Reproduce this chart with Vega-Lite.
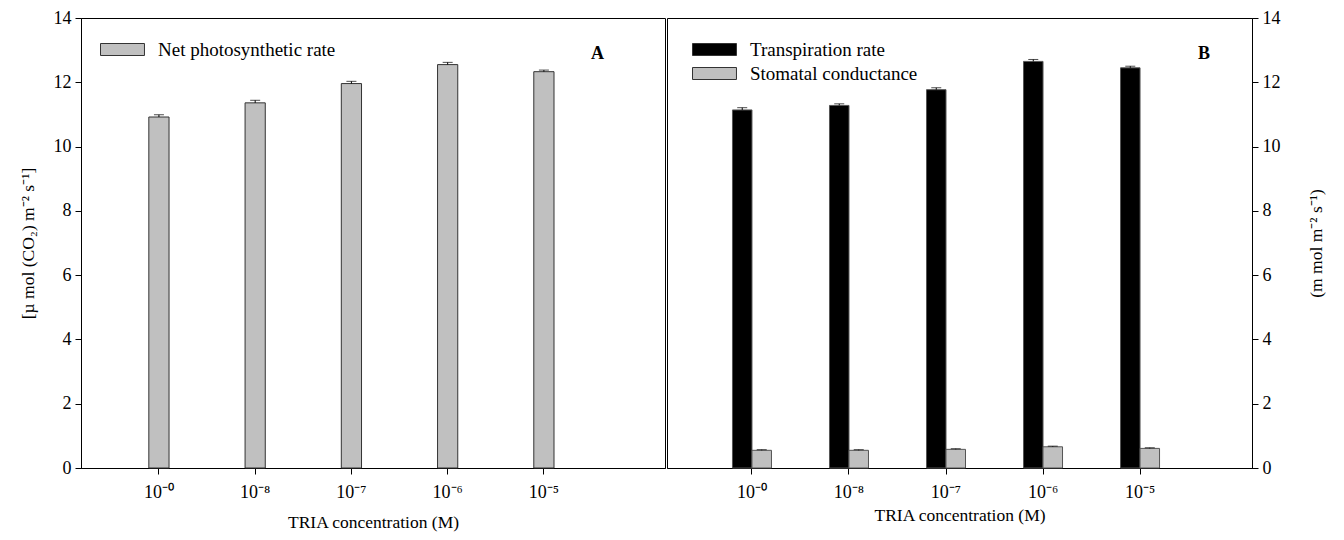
{
  "$schema": "https://vega.github.io/schema/vega-lite/v6.json",
  "padding": {"left": 18, "top": 8, "right": 5, "bottom": 5},
  "spacing": 0,
  "resolve": {"scale": {"color": "independent", "x": "independent", "y": "independent", "xOffset": "independent"}, "legend": {"color": "independent"}},
  "config": {
    "font": "Liberation Serif",
    "view": {"stroke": "#000", "strokeWidth": 1},
    "axis": {
      "grid": false, "domainColor": "#000", "tickColor": "#000", "labelColor": "#000", "titleColor": "#000",
      "labelFont": "Liberation Serif", "titleFont": "Liberation Serif", "labelFontSize": 18, "titleFontSize": 17.5,
      "titleFontWeight": "normal", "tickSize": 6, "domainWidth": 1, "tickWidth": 1
    },
    "legend": {
      "title": null, "orient": "top-left", "padding": 0, "labelLimit": 400,
      "symbolSize": 144, "symbolStrokeColor": "#333", "symbolStrokeWidth": 1,
      "labelFont": "Liberation Serif", "labelFontSize": 19, "labelColor": "#000", "labelOffset": 42, "rowPadding": 4
    }
  },
  "hconcat": [
    {
      "width": 584, "height": 450,
      "title": {"text": "A", "anchor": "end", "frame": "group", "dx": -61, "dy": 58, "fontSize": 18, "fontWeight": "bold", "font": "Liberation Serif", "color": "#000"},
      "data": {"values": [
        {"conc": "10⁻⁰", "series": "Net photosynthetic rate", "value": 10.92, "hi": 10.99},
        {"conc": "10⁻⁸", "series": "Net photosynthetic rate", "value": 11.36, "hi": 11.44},
        {"conc": "10⁻⁷", "series": "Net photosynthetic rate", "value": 11.96, "hi": 12.03},
        {"conc": "10⁻⁶", "series": "Net photosynthetic rate", "value": 12.55, "hi": 12.62},
        {"conc": "10⁻⁵", "series": "Net photosynthetic rate", "value": 12.33, "hi": 12.38}
      ]},
      "encoding": {
        "x": {"field": "conc", "type": "nominal", "sort": null,
          "scale": {"domain": ["10⁻⁰", "10⁻⁸", "10⁻⁷", "10⁻⁶", "10⁻⁵"], "paddingInner": 0, "paddingOuter": 0.534, "align": 0.29},
          "axis": {"title": "TRIA concentration (M)", "labelAngle": 0, "labelPadding": 9, "titlePadding": 12}}
      },
      "layer": [
        {"mark": {"type": "bar", "width": {"band": 0.21}, "stroke": "#333", "strokeWidth": 1},
         "encoding": {
           "y": {"field": "value", "type": "quantitative", "scale": {"domain": [0, 14], "nice": false},
             "axis": {"title": "[µ mol (CO₂) m⁻² s⁻¹]", "values": [0, 2, 4, 6, 8, 10, 12, 14], "labelPadding": 4, "titlePadding": 16}},
           "color": {"field": "series", "type": "nominal",
             "scale": {"domain": ["Net photosynthetic rate"], "range": ["#c0c0c0"]},
             "legend": {"offset": 22, "labelOffset": 36, "symbolType": "M-2,-1H5.33V1H-2Z"}}
         }},
        {"mark": {"type": "rule", "color": "#000", "strokeWidth": 1},
         "encoding": {"y": {"field": "value", "type": "quantitative"}, "y2": {"field": "hi"}}},
        {"mark": {"type": "tick", "color": "#000", "size": 10, "thickness": 1},
         "encoding": {"y": {"field": "hi", "type": "quantitative"}}}
      ]
    },
    {
      "width": 585, "height": 450,
      "title": {"text": "B", "anchor": "end", "frame": "group", "dx": -42, "dy": 58, "fontSize": 18, "fontWeight": "bold", "font": "Liberation Serif", "color": "#000"},
      "data": {"values": [
        {"conc": "10⁻⁰", "series": "Transpiration rate", "value": 11.14, "hi": 11.21},
        {"conc": "10⁻⁸", "series": "Transpiration rate", "value": 11.28, "hi": 11.33},
        {"conc": "10⁻⁷", "series": "Transpiration rate", "value": 11.77, "hi": 11.83},
        {"conc": "10⁻⁶", "series": "Transpiration rate", "value": 12.65, "hi": 12.71},
        {"conc": "10⁻⁵", "series": "Transpiration rate", "value": 12.45, "hi": 12.5},
        {"conc": "10⁻⁰", "series": "Stomatal conductance", "value": 0.55, "hi": 0.57},
        {"conc": "10⁻⁸", "series": "Stomatal conductance", "value": 0.55, "hi": 0.57},
        {"conc": "10⁻⁷", "series": "Stomatal conductance", "value": 0.58, "hi": 0.6},
        {"conc": "10⁻⁶", "series": "Stomatal conductance", "value": 0.66, "hi": 0.68},
        {"conc": "10⁻⁵", "series": "Stomatal conductance", "value": 0.61, "hi": 0.63}
      ]},
      "encoding": {
        "x": {"field": "conc", "type": "nominal", "sort": null,
          "scale": {"domain": ["10⁻⁰", "10⁻⁸", "10⁻⁷", "10⁻⁶", "10⁻⁵"], "paddingInner": 0, "paddingOuter": 0.515, "align": 0.365},
          "axis": {"title": "TRIA concentration (M)", "labelAngle": 0, "labelPadding": 9, "titlePadding": 5}},
        "xOffset": {"field": "series", "type": "nominal", "sort": null,
          "scale": {"domain": ["Transpiration rate", "Stomatal conductance"], "range": [29, 68]}}
      },
      "layer": [
        {"mark": {"type": "bar", "stroke": "#555", "strokeWidth": 1},
         "encoding": {
           "y": {"field": "value", "type": "quantitative", "scale": {"domain": [0, 14], "nice": false},
             "axis": {"orient": "right", "title": "(m mol m⁻² s⁻¹)", "titleAngle": 270, "values": [0, 2, 4, 6, 8, 10, 12, 14], "labelPadding": 4, "titlePadding": 45}},
           "color": {"field": "series", "type": "nominal", "sort": null,
             "scale": {"domain": ["Transpiration rate", "Stomatal conductance"], "range": ["#000000", "#c0c0c0"]},
             "legend": {"offset": 22, "symbolType": "M-1,-1H6.33V1H-1Z"}}
         }},
        {"mark": {"type": "rule", "color": "#000", "strokeWidth": 1},
         "encoding": {"y": {"field": "value", "type": "quantitative"}, "y2": {"field": "hi"}}},
        {"mark": {"type": "tick", "color": "#000", "size": 10, "thickness": 1},
         "encoding": {"y": {"field": "hi", "type": "quantitative"}}}
      ]
    }
  ]
}
